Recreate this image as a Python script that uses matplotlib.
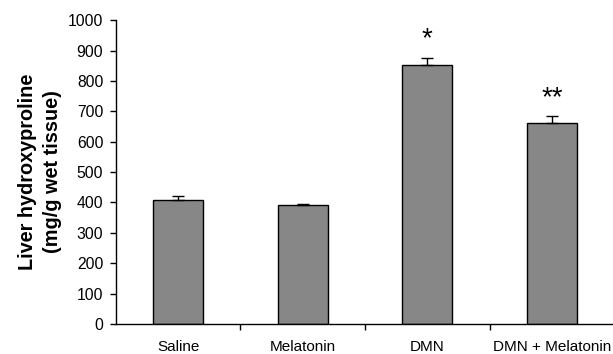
import matplotlib.pyplot as plt
import numpy as np

plt.rcParams['font.family'] = ['Liberation Sans', 'DejaVu Sans']

groups = ['Saline', 'Melatonin', 'DMN', 'DMN + Melatonin']
values = [408, 390, 854, 661]
errors = [14, 5, 23, 24]
marks = ['', '', '*', '**']

fig = plt.figure(figsize=(6.13, 3.54), dpi=100)
ax = fig.add_axes([0.189, 0.085, 0.813, 0.858])

x = np.arange(len(groups))
ax.bar(x, values, width=0.4, color='#878787', edgecolor='black', linewidth=1, zorder=2)
ax.errorbar(x, values, yerr=[np.zeros(len(errors)), errors], fmt='none',
            ecolor='black', elinewidth=1, capsize=4, capthick=1, zorder=3)

for xi, v, e, m in zip(x, values, errors, marks):
    if m:
        ax.annotate(m, (xi, v + e), xytext=(0, 13), textcoords='offset points',
                    ha='center', va='center', fontsize=20)

ax.set_xlim(-0.5, len(groups) - 0.5)
ax.set_ylim(0, 1000)
ax.set_yticks(range(0, 1001, 100))
ax.set_xticks(x[:-1] + 0.5)
ax.set_xticklabels([])
ax.set_xticks(x, minor=True)
ax.set_xticklabels(groups, minor=True, fontsize=11)
ax.tick_params(axis='x', which='minor', length=0, pad=11.5)
ax.tick_params(axis='x', which='major', length=4, width=1)
ax.tick_params(axis='y', length=4, width=1, labelsize=11.3, pad=5)

ax.spines['top'].set_visible(False)
ax.spines['right'].set_visible(False)
ax.spines['left'].set_linewidth(1)
ax.spines['bottom'].set_linewidth(1)

ax.set_ylabel('Liver hydroxyproline\n(mg/g wet tissue)', fontsize=14.3,
              fontweight='bold', linespacing=1.4)
ax.yaxis.set_label_coords(-0.108, 0.5)

fig.savefig('out.png', dpi=100)
